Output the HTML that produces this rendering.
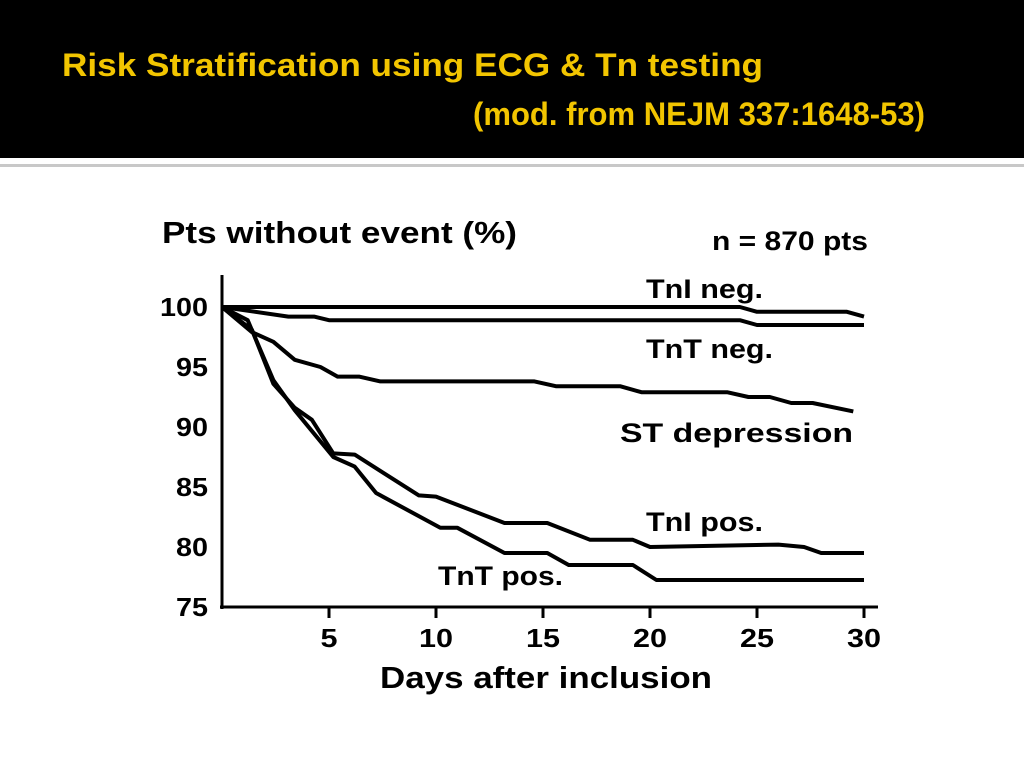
<!DOCTYPE html>
<html><head><meta charset="utf-8"><style>
body{margin:0;width:1024px;height:768px;background:#fff;overflow:hidden;font-family:"Liberation Sans",sans-serif}
#hdr{position:absolute;left:0;top:0;width:1024px;height:158px;background:#000}
#rule{position:absolute;left:0;top:164px;width:1024px;height:3px;background:#c8c8c8}
</style></head><body>
<div id="hdr"></div>
<div id="rule"></div>
<svg width="1024" height="160" style="position:absolute;left:0;top:0" font-family="Liberation Sans, sans-serif" font-weight="bold" fill="#f2c500">
<text x="62" y="76" font-size="32" textLength="701" lengthAdjust="spacingAndGlyphs">Risk Stratification using ECG &amp; Tn testing</text>
<text x="473" y="125" font-size="32" textLength="452" lengthAdjust="spacingAndGlyphs">(mod. from NEJM 337:1648-53)</text>
</svg>
<svg id="chart" width="1024" height="768" style="position:absolute;left:0;top:0" font-family="Liberation Sans, sans-serif" font-weight="bold"></svg>
<script>
const xTicks=[5,10,15,20,25,30];
const yTicks=[100,95,90,85,80,75];
const seriesNames=["TnI neg.","TnT neg.","ST depression","TnI pos.","TnT pos."];
const tniNegX=[0,24.2,25,29.2,30];
const tniNegY=[100,100,99.6,99.6,99.2];
const tntNegX=[0,3.1,4.3,5.0,24.2,25.0,30];
const tntNegY=[100,99.2,99.2,98.9,98.9,98.5,98.5];
const stX=[0,1.4,2.4,3.4,4.6,5.4,6.4,7.4,14.6,15.6,18.6,19.6,23.6,24.6,25.6,26.6,27.6,29.5];
const stY=[100,97.9,97.1,95.6,95.0,94.2,94.2,93.8,93.8,93.4,93.4,92.9,92.9,92.5,92.5,92.0,92.0,91.3];
const tniPosX=[0,1.4,2.4,3.4,4.2,5.2,6.2,9.2,10.0,13.2,15.2,17.2,19.2,20.0,26.0,27.2,28.0,30];
const tniPosY=[100,98.1,93.6,91.6,90.6,87.8,87.7,84.3,84.2,82.0,82.0,80.6,80.6,80.0,80.2,80.0,79.5,79.5];
const tntPosX=[0,1.2,2.4,3.4,5.2,6.2,7.2,10.2,11.0,13.2,15.2,16.2,19.2,20.3,30];
const tntPosY=[100,98.9,93.9,91.4,87.5,86.7,84.5,81.6,81.6,79.5,79.5,78.5,78.5,77.25,77.25];
const X=d=>222+d*21.4, Y=v=>307+(100-v)*12;
const svg=document.getElementById('chart'),NS='http://www.w3.org/2000/svg';
function mk(t,a,txt){const e=document.createElementNS(NS,t);for(const k in a)e.setAttribute(k,a[k]);if(txt!=null)e.textContent=txt;svg.appendChild(e);return e;}
let e;
e=mk('line',{x1:222,y1:275,x2:222,y2:609,stroke:'#000','stroke-width':3});


e=mk('line',{x1:220,y1:607,x2:878,y2:607,stroke:'#000','stroke-width':3});


xTicks.forEach(t=>{
 e=mk('line',{x1:X(t),y1:607,x2:X(t),y2:618,stroke:'#000','stroke-width':3});
 
 
 e=mk('text',{x:X(t),y:647,'font-size':26,'text-anchor':'middle',textLength:String(t).length*17,lengthAdjust:'spacingAndGlyphs'},t);
 
 
});
yTicks.forEach(t=>{
 e=mk('text',{x:208-String(t).length*16,y:Y(t)+9,'font-size':26,textLength:String(t).length*16,lengthAdjust:'spacingAndGlyphs'},t);
 
 
});
const series=[[tniNegX,tniNegY],[tntNegX,tntNegY],[stX,stY],[tniPosX,tniPosY],[tntPosX,tntPosY]];
series.forEach((s,i)=>{
 const pts=s[0].map((d,j)=>X(d)+','+Y(s[1][j])).join(' ');
 e=mk('polyline',{points:pts,fill:'none',stroke:'#000','stroke-width':4,'stroke-linejoin':'round'});
 
 
});
const labels=[[646,298,117],[646,358,127],[620,442,233],[646,531,117],[438,585,125]];
labels.forEach((p,i)=>{
 e=mk('text',{x:p[0],y:p[1],'font-size':27,textLength:p[2],lengthAdjust:'spacingAndGlyphs'},seriesNames[i]);
 
 
});
e=mk('text',{x:162,y:243,'font-size':31,textLength:355,lengthAdjust:'spacingAndGlyphs'},'Pts without event (%)');


e=mk('text',{x:712,y:250,'font-size':27,textLength:156,lengthAdjust:'spacingAndGlyphs'},'n = 870 pts');


e=mk('text',{x:380,y:688,'font-size':31,textLength:332,lengthAdjust:'spacingAndGlyphs'},'Days after inclusion');


</script>
</body></html>
